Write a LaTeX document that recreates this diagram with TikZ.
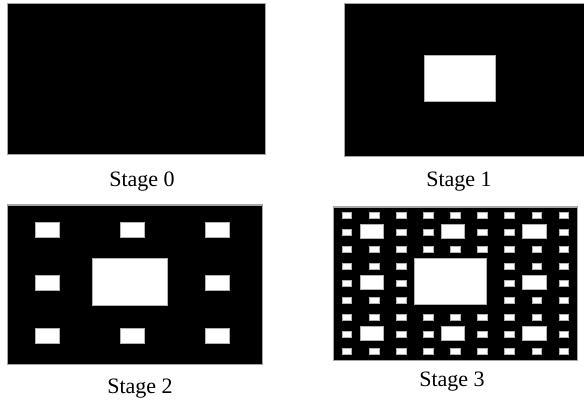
\documentclass[tikz,border=0pt]{standalone}
\usepackage{fontspec}
\setmainfont{Liberation Serif}
\usepackage{tikz}

\tikzset{
  panel/.style={fill=black, draw=gray!70, line width=0.5pt},
  hole/.style={fill=white, draw=gray!60, line width=0.3pt},
  caption/.style={font=\fontsize{11}{13}\selectfont, inner sep=1pt}
}

\begin{document}
\begin{tikzpicture}[x=0.5pt, y=-0.5pt]
    \useasboundingbox (0,0) rectangle (584,401);
    % stage 0
    \draw[panel] (7,4) rectangle (265,155);
    \node[caption] (s0) at (142,182) {Stage 0};
    % stage 1
    \draw[panel] (344,4) rectangle (584,157);
    \begin{scope}[shift={(344,4)}, x=120pt, y=-76.5pt]
      \draw[hole] (1/3,1/3) rectangle ++(0.295,0.3);
    \end{scope}
    \node[caption] (s1) at (459,182) {Stage 1};
    % stage 2
    \draw[panel] (7,205) rectangle (262,364);
    \begin{scope}[shift={(7,205)}, x=127.5pt, y=-79.5pt]
      \draw[hole] (1/3,1/3) rectangle ++(0.295,0.3);
      \foreach \i/\j in {0/0,0/1,0/2,1/0,1/2,2/0,2/1,2/2}
        \draw[hole] ({\i/3+1/9},{\j/3+1/9}) rectangle ++(0.095,0.095);
    \end{scope}
    \node[caption] (s2) at (140,389) {Stage 2};
    % stage 3
    \draw[panel] (333,207) rectangle (577,360);
    \begin{scope}[shift={(333,207)}, x=122pt, y=-76.5pt]
      \draw[hole] (1/3,1/3) rectangle ++(0.295,0.3);
      \foreach \i/\j in {0/0,0/1,0/2,1/0,1/2,2/0,2/1,2/2} {
        \draw[hole] ({\i/3+1/9},{\j/3+1/9}) rectangle ++(0.095,0.095);
        \foreach \k/\l in {0/0,0/1,0/2,1/0,1/2,2/0,2/1,2/2}
          \draw[hole] ({\i/3+\k/9+1/27},{\j/3+\l/9+1/27}) rectangle ++(0.04,0.04);
      }
    \end{scope}
    \node[caption] (s3) at (452,382) {Stage 3};
\end{tikzpicture}
\end{document}
